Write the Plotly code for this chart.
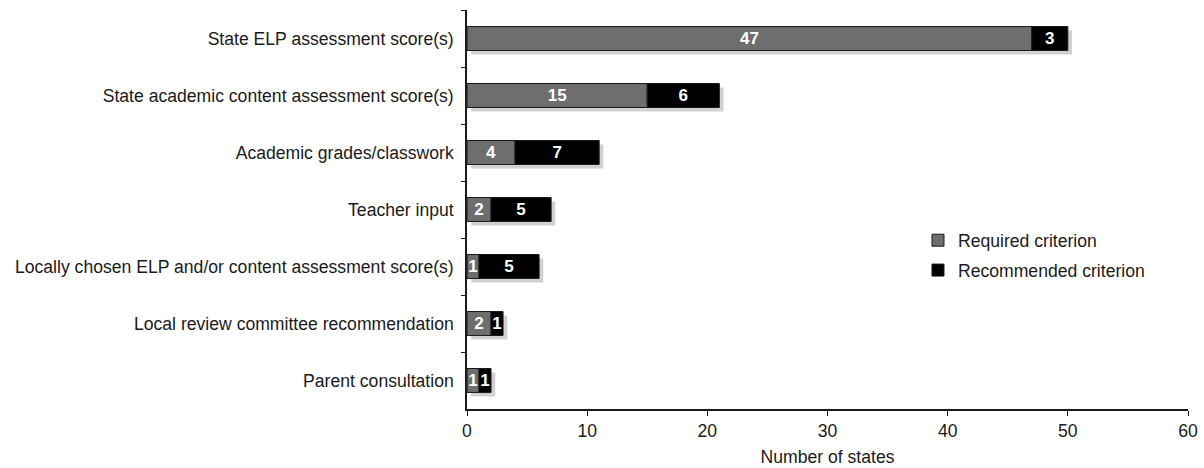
import plotly.graph_objects as go

categories = [
    "State ELP assessment score(s)",
    "State academic content assessment score(s)",
    "Academic grades/classwork",
    "Teacher input",
    "Locally chosen ELP and/or content assessment score(s)",
    "Local review committee recommendation",
    "Parent consultation",
]
required = [47, 15, 4, 2, 1, 2, 1]
recommended = [3, 6, 7, 5, 5, 1, 1]
x_ticks = [0, 10, 20, 30, 40, 50, 60]

totals = [a + b for a, b in zip(required, recommended)]
FONT = "Liberation Sans, Arial, sans-serif"
FS = 17.6
BW = 0.42

fig = go.Figure()
# soft drop shadow behind each stacked bar
fig.add_trace(go.Bar(
    y=categories, x=totals, base=[0.35] * len(totals), orientation="h",
    width=BW, offset=-BW / 2 + 0.07,
    marker=dict(color="rgba(0,0,0,0.18)", line=dict(width=0)),
    showlegend=False, hoverinfo="skip",
))
fig.add_trace(go.Bar(
    y=categories, x=required, base=[0] * len(required), orientation="h",
    name="Required criterion", width=BW, offset=-BW / 2,
    marker=dict(color="#6e6e6e", line=dict(color="#1a1a1a", width=1)),
    text=[str(v) for v in required], textposition="inside",
    insidetextanchor="middle", textangle=0,
    textfont=dict(color="white", size=17, family=FONT, weight="bold"),
    legendgroup="a",
))
fig.add_trace(go.Bar(
    y=categories, x=recommended, base=required, orientation="h",
    name="Recommended criterion", width=BW, offset=-BW / 2,
    marker=dict(color="#000000", line=dict(color="#1a1a1a", width=1)),
    text=[str(v) for v in recommended], textposition="inside",
    insidetextanchor="middle", textangle=0,
    textfont=dict(color="white", size=17, family=FONT, weight="bold"),
    legendgroup="b",
))

fig.update_layout(
    width=1204, height=468,
    margin=dict(l=467, r=16, t=10, b=59, autoexpand=False),
    barmode="overlay",
    plot_bgcolor="white", paper_bgcolor="white",
    font=dict(family=FONT, size=FS, color="#1a1a1a"),
    uniformtext=dict(minsize=17, mode="show"),
    legend=dict(
        x=0.6255, y=0.468, xanchor="left", yanchor="top",
        bgcolor="rgba(0,0,0,0)", traceorder="grouped", tracegroupgap=4,
        itemwidth=30, font=dict(size=FS, family=FONT, color="#1a1a1a"),
    ),
    showlegend=True,
)
fig.update_xaxes(
    range=[0, 60], tickvals=x_ticks, showgrid=False, zeroline=False,
    showline=True, linecolor="#1a1a1a", linewidth=1.5,
    ticks="outside", ticklen=5, tickcolor="#1a1a1a", automargin=False,
    tickfont=dict(size=FS), title=dict(text="Number of states", font=dict(size=FS), standoff=11),
)
fig.update_yaxes(
    autorange="reversed", showgrid=False, zeroline=False,
    showline=True, linecolor="#1a1a1a", linewidth=1.5, automargin=False,
    ticks="outside", ticklen=4, tickcolor="#1a1a1a", tickson="boundaries",
    tickfont=dict(size=FS), ticklabelstandoff=8,
)

fig.write_html("out.html", config={"displayModeBar": False},
               post_script="document.body.style.margin='0';")
